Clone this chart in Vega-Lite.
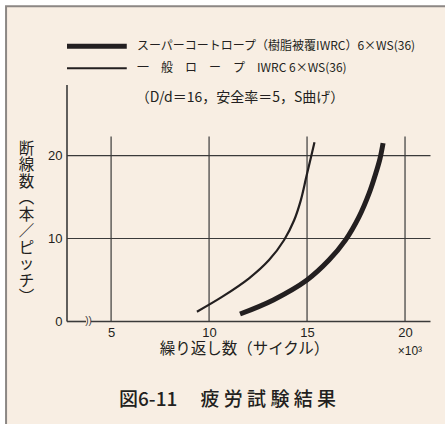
{
  "$schema": "https://vega.github.io/schema/vega-lite/v6.json",
  "autosize": "none",
  "width": 363.5,
  "height": 236.5,
  "padding": {"left": 67, "top": 85, "right": 14.5, "bottom": 102.5},
  "background": "white",
  "config": {"view": {"stroke": null}, "font": "Noto Sans CJK JP"},
  "resolve": {"axis": {"x": "independent", "y": "independent"}},
  "datasets": {
    "curves": [
      {"series": "スーパーコートロープ", "cycles": 11.58, "breaks": 0.9},
      {"series": "スーパーコートロープ", "cycles": 13.28, "breaks": 2.6},
      {"series": "スーパーコートロープ", "cycles": 15.0, "breaks": 5.0},
      {"series": "スーパーコートロープ", "cycles": 16.12, "breaks": 7.4},
      {"series": "スーパーコートロープ", "cycles": 16.96, "breaks": 9.8},
      {"series": "スーパーコートロープ", "cycles": 17.65, "breaks": 12.6},
      {"series": "スーパーコートロープ", "cycles": 18.16, "breaks": 15.4},
      {"series": "スーパーコートロープ", "cycles": 18.5, "breaks": 17.8},
      {"series": "スーパーコートロープ", "cycles": 18.72, "breaks": 19.6},
      {"series": "スーパーコートロープ", "cycles": 18.88, "breaks": 21.5},
      {"series": "一般ロープ", "cycles": 9.38, "breaks": 1.18},
      {"series": "一般ロープ", "cycles": 10.68, "breaks": 2.99},
      {"series": "一般ロープ", "cycles": 12.04, "breaks": 5.2},
      {"series": "一般ロープ", "cycles": 13.06, "breaks": 7.4},
      {"series": "一般ロープ", "cycles": 13.83, "breaks": 9.82},
      {"series": "一般ロープ", "cycles": 14.34, "breaks": 12.2},
      {"series": "一般ロープ", "cycles": 14.68, "breaks": 14.6},
      {"series": "一般ロープ", "cycles": 14.96, "breaks": 17.4},
      {"series": "一般ロープ", "cycles": 15.2, "breaks": 19.8},
      {"series": "一般ロープ", "cycles": 15.38, "breaks": 21.6}
    ],
    "vgrid": [{"gx": 5}, {"gx": 10}, {"gx": 15}, {"gx": 20}],
    "hgrid": [{"gy": 10}, {"gy": 20}],
    "xaxis": [{"a": 2.75, "b": 3.72}, {"a": 3.97, "b": 21.3}]
  },
  "layer": [
    {
      "data": {"values": [{}]},
      "mark": {"type": "rect", "fill": "#f8eee3", "stroke": "#8c8784", "strokeWidth": 2},
      "encoding": {
        "x": {"datum": -0.36, "type": "quantitative", "scale": {"domain": [2.75, 21.3]}, "axis": null},
        "x2": {"datum": 40},
        "y": {"datum": 38, "type": "quantitative", "scale": {"domain": [0, 28.5]}, "axis": null},
        "y2": {"datum": -30}
      }
    },
    {
      "data": {"name": "vgrid"},
      "mark": {"type": "rule", "color": "#3a3a3a", "strokeWidth": 1.2},
      "encoding": {
        "x": {"field": "gx", "type": "quantitative", "scale": {"domain": [2.75, 21.3]}, "axis": null},
        "y": {"datum": 0, "type": "quantitative", "scale": {"domain": [0, 28.5]}, "axis": null},
        "y2": {"datum": 22.3}
      }
    },
    {
      "data": {"name": "hgrid"},
      "mark": {"type": "rule", "color": "#3a3a3a", "strokeWidth": 1.2},
      "encoding": {
        "y": {"field": "gy", "type": "quantitative", "scale": {"domain": [0, 28.5]}, "axis": null},
        "x": {"datum": 2.75, "type": "quantitative", "scale": {"domain": [2.75, 21.3]}, "axis": null},
        "x2": {"datum": 21.3}
      }
    },
    {
      "data": {"values": [{}]},
      "mark": {"type": "rule", "color": "#3a3a3a", "strokeWidth": 1.6},
      "encoding": {
        "x": {"datum": 2.75, "type": "quantitative", "scale": {"domain": [2.75, 21.3]}, "axis": null},
        "y": {"datum": 0, "type": "quantitative", "scale": {"domain": [0, 28.5]}, "axis": null},
        "y2": {"datum": 28.5}
      }
    },
    {
      "data": {"name": "xaxis"},
      "mark": {"type": "rule", "color": "#3a3a3a", "strokeWidth": 1.6},
      "encoding": {
        "x": {"field": "a", "type": "quantitative", "scale": {"domain": [2.75, 21.3]}, "axis": null},
        "x2": {"field": "b"},
        "y": {"datum": 0, "type": "quantitative", "scale": {"domain": [0, 28.5]}, "axis": null}
      }
    },
    {
      "data": {"values": [{"t": "))"}]},
      "mark": {"type": "text", "font": "Liberation Sans", "fontSize": 10, "color": "#3a3a3a", "align": "center", "baseline": "middle"},
      "encoding": {
        "text": {"field": "t"},
        "x": {"datum": 3.85, "type": "quantitative", "scale": {"domain": [2.75, 21.3]}, "axis": null},
        "y": {"datum": 0.05, "type": "quantitative", "scale": {"domain": [0, 28.5]}, "axis": null}
      }
    },
    {
      "data": {"name": "curves"},
      "mark": {"type": "line", "interpolate": "catmull-rom", "strokeCap": "butt", "color": "#231f20"},
      "encoding": {
        "x": {
          "field": "cycles", "type": "quantitative",
          "scale": {"domain": [2.75, 21.3]},
          "axis": {
            "zindex": 2,
            "values": [5, 10, 15, 20], "domain": false, "ticks": false, "grid": false,
            "labelFont": "Liberation Sans", "labelFontSize": 13, "labelColor": "#231f20", "labelPadding": 5,
            "title": "繰り返し数（サイクル）", "titleFont": "Noto Sans CJK JP", "titleFontSize": 15.5,
            "titleFontWeight": "normal", "titleColor": "#231f20", "titleX": 177, "titleY": 27,
            "titleBaseline": "middle", "titleAlign": "center"
          }
        },
        "y": {
          "field": "breaks", "type": "quantitative",
          "scale": {"domain": [0, 28.5]},
          "axis": {
            "zindex": 2,
            "values": [0, 10, 20], "domain": false, "ticks": false, "grid": false,
            "labelFont": "Liberation Sans", "labelFontSize": 13, "labelColor": "#231f20", "labelPadding": 5,
            "title": ["断", "線", "数", "︵", "本", "／", "ピ", "ッ", "チ", "︶"],
            "titleFont": "Noto Sans CJK JP", "titleFontSize": 15.5, "titleFontWeight": "normal",
            "titleColor": "#231f20", "titleAngle": 0, "titleLineHeight": 16.5,
            "titleX": -41, "titleY": 56, "titleAlign": "center", "titleBaseline": "top"
          }
        },
        "detail": {"field": "series"},
        "strokeWidth": {
          "field": "series", "type": "nominal",
          "scale": {"domain": ["スーパーコートロープ", "一般ロープ"], "range": [5, 2.2]},
          "legend": null
        }
      }
    },
    {
      "data": {"values": [{"series": "スーパーコートロープ", "ly": 33.17}, {"series": "一般ロープ", "ly": 30.52}]},
      "mark": {"type": "rule", "color": "#231f20", "strokeCap": "butt"},
      "encoding": {
        "x": {"datum": 2.75, "type": "quantitative", "scale": {"domain": [2.75, 21.3]}, "axis": null},
        "x2": {"datum": 5.8},
        "y": {"field": "ly", "type": "quantitative", "scale": {"domain": [0, 28.5]}, "axis": null},
        "strokeWidth": {
          "field": "series", "type": "nominal",
          "scale": {"domain": ["スーパーコートロープ", "一般ロープ"], "range": [5, 2.2]},
          "legend": null
        }
      }
    },
    {
      "data": {"values": [
        {"label": "スーパーコートロープ（樹脂被覆IWRC）6×WS(36)", "ly": 33.17},
        {"label": "一　般　ロ　ー　プ　IWRC 6×WS(36)", "ly": 30.52}
      ]},
      "mark": {"type": "text", "font": "Noto Sans CJK JP", "fontSize": 12, "color": "#231f20", "align": "left", "baseline": "middle"},
      "encoding": {
        "text": {"field": "label"},
        "x": {"datum": 6.32, "type": "quantitative", "scale": {"domain": [2.75, 21.3]}, "axis": null},
        "y": {"field": "ly", "type": "quantitative", "scale": {"domain": [0, 28.5]}, "axis": null}
      }
    },
    {
      "data": {"values": [{"t": "（D/d＝16，安全率＝5，S曲げ）"}]},
      "mark": {"type": "text", "font": "Noto Sans CJK JP", "fontSize": 14, "color": "#231f20", "align": "center", "baseline": "middle"},
      "encoding": {
        "text": {"field": "t"},
        "x": {"datum": 11.58, "type": "quantitative", "scale": {"domain": [2.75, 21.3]}, "axis": null},
        "y": {"datum": 26.9, "type": "quantitative", "scale": {"domain": [0, 28.5]}, "axis": null}
      }
    },
    {
      "data": {"values": [{"t": "×10³"}]},
      "mark": {"type": "text", "font": "Liberation Sans", "fontSize": 12, "color": "#231f20", "align": "center", "baseline": "middle"},
      "encoding": {
        "text": {"field": "t"},
        "x": {"datum": 20.25, "type": "quantitative", "scale": {"domain": [2.75, 21.3]}, "axis": null},
        "y": {"datum": -3.5, "type": "quantitative", "scale": {"domain": [0, 28.5]}, "axis": null}
      }
    },
    {
      "data": {"values": [{"t": "図6-11　 疲 労 試 験 結 果"}]},
      "mark": {"type": "text", "font": "Noto Sans CJK JP", "fontSize": 19, "fontWeight": 500, "color": "#231f20", "align": "center", "baseline": "middle"},
      "encoding": {
        "text": {"field": "t"},
        "x": {"datum": 10.94, "type": "quantitative", "scale": {"domain": [2.75, 21.3]}, "axis": null},
        "y": {"datum": -9.5, "type": "quantitative", "scale": {"domain": [0, 28.5]}, "axis": null}
      }
    }
  ]
}
